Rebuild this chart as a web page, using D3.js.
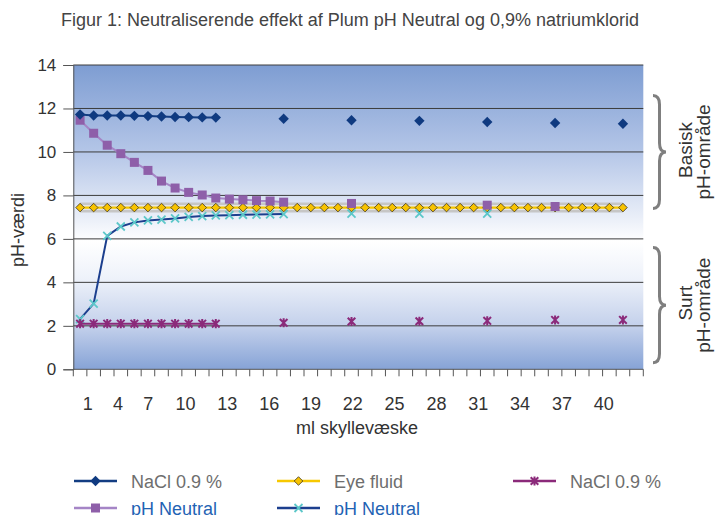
<!DOCTYPE html>
<html>
<head>
<meta charset="utf-8">
<script src="https://cdn.jsdelivr.net/npm/d3@7"></script>
<style>
  body { margin: 0; background: #fff; }
  text { font-family: "Liberation Sans", Arial, sans-serif; }
</style>
</head>
<body>
<svg id="chart"></svg>
<script>
const categories = [0,1,2,3,4,5,6,7,8,9,10,11,12,13,14,15,16,17,18,19,20,21,22,23,24,25,26,27,28,29,30,31,32,33,34,35,36,37,38,39,40,41];
const xTickLabels = [1, 4, 7, 10, 13, 16, 19, 22, 25, 28, 31, 34, 37, 40];
const yTicks = [0, 2, 4, 6, 8, 10, 12, 14];

// NaCl 0.9 % (basic start)
const naclHighIdx = [0,1,2,3,4,5,6,7,8,9,10,15,20,25,30,35,40];
const naclHighVals = [11.72,11.68,11.68,11.68,11.66,11.65,11.63,11.61,11.6,11.59,11.58,11.53,11.46,11.43,11.38,11.33,11.3];

// Eye fluid
const eyeIdx = [0,1,2,3,4,5,6,7,8,9,10,11,12,13,14,15,16,17,18,19,20,21,22,23,24,25,26,27,28,29,30,31,32,33,34,35,36,37,38,39,40];
const eyeVals = [7.44,7.44,7.44,7.44,7.44,7.44,7.44,7.44,7.44,7.44,7.44,7.44,7.44,7.44,7.44,7.44,7.44,7.44,7.44,7.44,7.44,7.44,7.44,7.44,7.44,7.44,7.44,7.44,7.44,7.44,7.44,7.44,7.44,7.44,7.44,7.44,7.44,7.44,7.44,7.44,7.44];

// NaCl 0.9 % (acid start)
const naclLowIdx = [0,1,2,3,4,5,6,7,8,9,10,15,20,25,30,35,40];
const naclLowVals = [2.1,2.1,2.1,2.1,2.1,2.1,2.1,2.1,2.1,2.1,2.1,2.14,2.2,2.21,2.23,2.27,2.27];

// pH Neutral (basic start)
const phHighIdx = [0,1,2,3,4,5,6,7,8,9,10,11,12,13,14,15,20,30,35];
const phHighVals = [11.46,10.86,10.31,9.92,9.52,9.15,8.66,8.34,8.14,8.02,7.88,7.83,7.8,7.76,7.74,7.69,7.63,7.55,7.49];

// pH Neutral (acid start)
const phLowIdx = [0,1,2,3,4,5,6,7,8,9,10,11,12,13,14,15,20,25,30];
const phLowVals = [2.31,3.02,6.14,6.57,6.76,6.85,6.89,6.94,7.01,7.05,7.08,7.09,7.11,7.12,7.13,7.14,7.16,7.16,7.16];

const W = 715, H = 515;
const plot = {left: 73.3, right: 643.3, top: 65, bottom: 369.3};

const svg = d3.select("#chart").attr("width", W).attr("height", H);

const x = d3.scaleBand().domain(categories).range([plot.left, plot.right]);
const cx = i => x(i) + x.bandwidth() / 2;
const y = d3.scaleLinear().domain([0, 14]).range([plot.bottom, plot.top]);

// label axis was laid out separately from the category slots
const bw = x.bandwidth();
const xLab = d3.scaleLinear().domain([1, 7, 10, 40])
    .range([1.03, 5.48, 8.23, 39.05].map(u => plot.left + u * bw));

// background gradient
const defs = svg.append("defs");
const grad = defs.append("linearGradient").attr("id", "bg")
    .attr("x1", 0).attr("y1", 0).attr("x2", 0).attr("y2", 1);
[[0, "#7e9dd2"], [0.28, "#b3c5e7"], [0.5, "#e9eef8"], [0.58, "#ffffff"],
 [0.7, "#eef2fa"], [0.86, "#c3d0eb"], [1, "#86a3d6"]]
    .forEach(s => grad.append("stop").attr("offset", s[0]).attr("stop-color", s[1]));

svg.append("rect")
    .attr("x", plot.left).attr("y", plot.top)
    .attr("width", plot.right - plot.left).attr("height", plot.bottom - plot.top)
    .attr("fill", "url(#bg)");

// gridlines
svg.append("g").selectAll("line").data(yTicks.filter(d => d > 0)).enter().append("line")
    .attr("x1", plot.left).attr("x2", plot.right)
    .attr("y1", d => y(d)).attr("y2", d => y(d))
    .attr("stroke", "#3c3c3c").attr("stroke-width", 1);

// y axis
const yAxis = svg.append("g").attr("transform", `translate(${plot.left},0)`)
    .call(d3.axisLeft(y).tickValues(yTicks).tickSize(10).tickPadding(7));
yAxis.select(".domain").attr("stroke", "#555");
yAxis.selectAll(".tick line").attr("stroke", "#555");
yAxis.selectAll("text").attr("font-size", 17).attr("fill", "#333")
    .attr("font-family", "Liberation Sans, Arial, sans-serif");

// x axis: category ticks
const xg = svg.append("g");
xg.append("line").attr("x1", plot.left).attr("x2", plot.right)
    .attr("y1", plot.bottom).attr("y2", plot.bottom).attr("stroke", "#555");
xg.selectAll(".ct").data(categories.concat([categories.length])).enter().append("line")
    .attr("x1", d => plot.left + d * bw).attr("x2", d => plot.left + d * bw)
    .attr("y1", plot.bottom).attr("y2", plot.bottom + 7)
    .attr("stroke", "#555");

const xAxis = svg.append("g").attr("transform", `translate(0,${plot.bottom})`)
    .call(d3.axisBottom(xLab).tickValues(xTickLabels).tickSize(0).tickPadding(28));
xAxis.select(".domain").remove();
xAxis.selectAll("text").attr("font-size", 18).attr("fill", "#333")
    .attr("font-family", "Liberation Sans, Arial, sans-serif");

// titles
svg.append("text").attr("x", 350).attr("y", 26).attr("text-anchor", "middle")
    .attr("font-size", 18).attr("fill", "#444")
    .text("Figur 1: Neutraliserende effekt af Plum pH Neutral og 0,9% natriumklorid");
svg.append("text").attr("x", 357).attr("y", 434).attr("text-anchor", "middle")
    .attr("font-size", 18).attr("fill", "#333").text("ml skyllevæske");
svg.append("text").attr("transform", "translate(24,230) rotate(-90)")
    .attr("text-anchor", "middle").attr("font-size", 18).attr("fill", "#333").text("pH-værdi");

// marker shapes
const shapes = {
    diamond: r => `M0,${-r}L${r},0L0,${r}L${-r},0Z`,
    square: r => `M${-r},${-r}H${r}V${r}H${-r}Z`,
    cross: r => `M${-r},${-r}L${r},${r}M${-r},${r}L${r},${-r}`,
    star: r => `M${-r},${-r}L${r},${r}M${-r},${r}L${r},${-r}M0,${-r * 1.2}V${r * 1.2}`
};

function runs(idx) {
    const out = [];
    let cur = [];
    idx.forEach((d, k) => {
        if (k > 0 && d !== idx[k - 1] + 1) { out.push(cur); cur = []; }
        cur.push(k);
    });
    out.push(cur);
    return out.filter(r => r.length > 1);
}

function series(idx, vals, o) {
    const g = svg.append("g");
    const line = d3.line().x(k => cx(idx[k])).y(k => y(vals[k]));
    runs(idx).forEach(r => {
        if (o.band) {
            g.append("path").attr("d", line(r)).attr("fill", "none")
                .attr("stroke", "#c6c6c6").attr("stroke-width", 10);
            g.append("path").attr("d", line(r)).attr("fill", "none")
                .attr("stroke", "#e4e4e4").attr("stroke-width", 5);
        }
        g.append("path").attr("d", line(r)).attr("fill", "none")
            .attr("stroke", o.line).attr("stroke-width", o.lw || 2);
    });
    g.selectAll("path.m").data(idx).enter().append("path")
        .attr("class", "m")
        .attr("transform", (d, k) => `translate(${cx(d)},${y(vals[k])})`)
        .attr("d", shapes[o.shape](o.r))
        .attr("fill", o.fill || "none")
        .attr("stroke", o.stroke || "none")
        .attr("stroke-width", o.sw || 1);
}

const styles = {
    naclHigh: {line: "#133d82", shape: "diamond", r: 5.2, fill: "#0f3a80"},
    eye: {line: "#f7c800", shape: "diamond", r: 4.3, fill: "#f8c300", stroke: "#3b3320", sw: 0.8, lw: 2.2, band: true},
    naclLow: {line: "#8b2a7a", shape: "star", r: 3.8, stroke: "#8b2a7a", sw: 2},
    phHigh: {line: "#a585c6", shape: "square", r: 4.5, fill: "#8e5fa9"},
    phLow: {line: "#1c3f8e", shape: "cross", r: 4, stroke: "#5cc7c9", sw: 1.8}
};

series(eyeIdx, eyeVals, styles.eye);
series(phLowIdx, phLowVals, styles.phLow);
series(naclLowIdx, naclLowVals, styles.naclLow);
series(phHighIdx, phHighVals, styles.phHigh);
series(naclHighIdx, naclHighVals, styles.naclHigh);

// braces on the right
function brace(y1, y2, x0, w) {
    const m = (y1 + y2) / 2, q = 9, xm = x0 + w / 2;
    return `M${x0},${y1}Q${xm},${y1} ${xm},${y1 + q}L${xm},${m - q}Q${xm},${m} ${x0 + w},${m}` +
        `Q${xm},${m} ${xm},${m + q}L${xm},${y2 - q}Q${xm},${y2} ${x0},${y2}`;
}
const braces = [
    {from: 12.6, to: 7.4, l1: "Basisk", l2: "pH-område"},
    {from: 5.6, to: 0.3, l1: "Surt", l2: "pH-område"}
];
braces.forEach(b => {
    const y1 = y(b.from), y2 = y(b.to), m = (y1 + y2) / 2;
    svg.append("path").attr("d", brace(y1, y2, 653, 13))
        .attr("fill", "none").attr("stroke", "#7f7f7f").attr("stroke-width", 3);
    svg.append("text").attr("transform", `translate(692,${m - 2}) rotate(-90)`)
        .attr("text-anchor", "middle").attr("font-size", 19).attr("fill", "#333").text(b.l1);
    svg.append("text").attr("transform", `translate(710,${m}) rotate(-90)`)
        .attr("text-anchor", "middle").attr("font-size", 19).attr("fill", "#333").text(b.l2);
});

// legend
const legendItems = [
    {name: "NaCl 0.9 %", s: styles.naclHigh, x: 74, row: 0, color: "#6e6e6e"},
    {name: "Eye fluid", s: styles.eye, x: 277, row: 0, color: "#6e6e6e"},
    {name: "NaCl 0.9 %", s: styles.naclLow, x: 513, row: 0, color: "#6e6e6e"},
    {name: "pH Neutral", s: styles.phHigh, x: 74, row: 1, color: "#1f63b4"},
    {name: "pH Neutral", s: styles.phLow, x: 277, row: 1, color: "#1f63b4"}
];
const rowY = [481, 508];
const lg = svg.append("g");
legendItems.forEach(it => {
    const ly = rowY[it.row];
    lg.append("line").attr("x1", it.x).attr("x2", it.x + 43).attr("y1", ly).attr("y2", ly)
        .attr("stroke", it.s.line).attr("stroke-width", 2.5);
    lg.append("path").attr("transform", `translate(${it.x + 21.5},${ly})`)
        .attr("d", shapes[it.s.shape](it.s.r))
        .attr("fill", it.s.fill || "none").attr("stroke", it.s.stroke || "none")
        .attr("stroke-width", it.s.sw || 1);
    lg.append("text").attr("x", it.x + 57).attr("y", ly + 6.5)
        .attr("font-size", 18).attr("fill", it.color).text(it.name);
});
</script>
</body>
</html>
